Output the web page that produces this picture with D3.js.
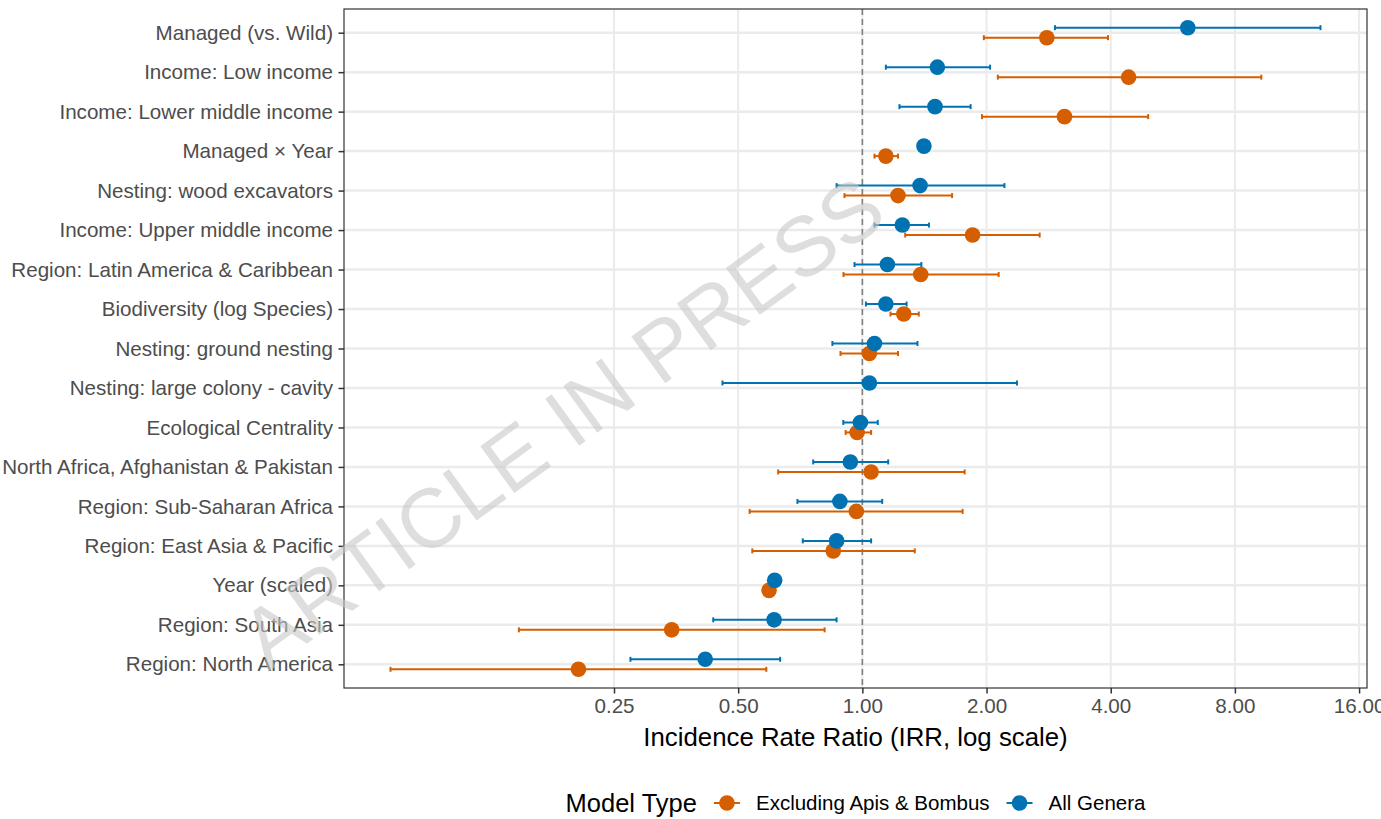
<!DOCTYPE html>
<html>
<head>
<meta charset="utf-8">
<script src="https://cdn.jsdelivr.net/npm/d3@7"></script>
<style>
  body { margin: 0; background: #fff; }
  text { font-family: "Liberation Sans", Arial, sans-serif; }
</style>
</head>
<body>
<div id="chart"></div>
<script>
// Terms, top to bottom
var terms = [
  "Managed (vs. Wild)",
  "Income: Low income",
  "Income: Lower middle income",
  "Managed \u00d7 Year",
  "Nesting: wood excavators",
  "Income: Upper middle income",
  "Region: Latin America & Caribbean",
  "Biodiversity (log Species)",
  "Nesting: ground nesting",
  "Nesting: large colony - cavity",
  "Ecological Centrality",
  "North Africa, Afghanistan & Pakistan",
  "Region: Sub-Saharan Africa",
  "Region: East Asia & Pacific",
  "Year (scaled)",
  "Region: South Asia",
  "Region: North America"
];

// All Genera model: IRR and 95% CI
var allIRR = [6.15, 1.52, 1.50, 1.41, 1.38, 1.25, 1.15, 1.14, 1.07, 1.04, 0.989, 0.935, 0.882, 0.866, 0.613, 0.611, 0.416];
var allLow = [2.93, 1.14, 1.23, 1.39, 0.866, 1.07, 0.957, 1.02, 0.846, 0.458, 0.899, 0.76, 0.696, 0.717, 0.605, 0.435, 0.274];
var allHigh = [12.9, 2.04, 1.83, 1.43, 2.21, 1.45, 1.39, 1.28, 1.36, 2.37, 1.09, 1.155, 1.117, 1.05, 0.621, 0.866, 0.632];

// Excluding Apis & Bombus model (no estimate for large colony - cavity)
var exIRR = [2.80, 4.42, 3.09, 1.14, 1.22, 1.85, 1.385, 1.26, 1.04, null, 0.971, 1.05, 0.967, 0.85, 0.594, 0.345, 0.205];
var exLow = [1.97, 2.13, 1.95, 1.07, 0.905, 1.27, 0.90, 1.17, 0.885, null, 0.911, 0.625, 0.533, 0.541, 0.586, 0.147, 0.0718];
var exHigh = [3.94, 9.27, 4.93, 1.22, 1.65, 2.69, 2.14, 1.37, 1.22, null, 1.05, 1.77, 1.75, 1.34, 0.602, 0.81, 0.585];

var xTicks = [0.25, 0.5, 1, 2, 4, 8, 16];

var models = [
  { name: "Excluding Apis & Bombus", color: "#D55E00", offset: 5, est: exIRR, lo: exLow, hi: exHigh },
  { name: "All Genera", color: "#0072B2", offset: -5, est: allIRR, lo: allLow, hi: allHigh }
];

var W = 1381, H = 819;
var margin = { top: 9, right: 14, bottom: 131, left: 344 };
var width = W - margin.left - margin.right;
var height = H - margin.top - margin.bottom;

var svg = d3.select("#chart")
  .append("svg")
  .attr("width", W)
  .attr("height", H);

var g = svg.append("g")
  .attr("transform", "translate(" + margin.left + "," + margin.top + ")");

// rows for plotting
var rows = [];
models.forEach(function(m) {
  terms.forEach(function(t, i) {
    if (m.est[i] == null) return;
    rows.push({ term: t, model: m, est: m.est[i], lo: m.lo[i], hi: m.hi[i] });
  });
});

// log2 x with 5% expansion like ggplot
var lmin = Math.log2(d3.min(rows, function(d) { return d.lo; }));
var lmax = Math.log2(d3.max(rows, function(d) { return d.hi; }));
var pad = (lmax - lmin) * 0.05;
var x = d3.scaleLog().base(2)
  .domain([Math.pow(2, lmin - pad), Math.pow(2, lmax + pad)])
  .range([0, width]);

var y = d3.scalePoint()
  .domain(terms)
  .range([0, height])
  .padding(0.6);

// grid
g.selectAll(".vgrid")
  .data(xTicks)
  .enter().append("line")
  .attr("x1", function(d) { return x(d); })
  .attr("x2", function(d) { return x(d); })
  .attr("y1", 0)
  .attr("y2", height)
  .style("stroke", "#EBEBEB")
  .style("stroke-width", 2);

g.selectAll(".hgrid")
  .data(terms)
  .enter().append("line")
  .attr("x1", 0)
  .attr("x2", width)
  .attr("y1", function(d) { return y(d); })
  .attr("y2", function(d) { return y(d); })
  .style("stroke", "#EBEBEB")
  .style("stroke-width", 2.5);

// reference line at IRR = 1
g.append("line")
  .attr("x1", x(1))
  .attr("x2", x(1))
  .attr("y1", 0)
  .attr("y2", height)
  .style("stroke", "#7F7F7F")
  .style("stroke-width", 1.6)
  .style("stroke-dasharray", "6,4");

// error bars
var eb = g.selectAll(".eb")
  .data(rows)
  .enter().append("g")
  .attr("transform", function(d) { return "translate(0," + (y(d.term) + d.model.offset) + ")"; })
  .style("stroke", function(d) { return d.model.color; })
  .style("stroke-width", 2);

eb.append("line")
  .attr("x1", function(d) { return x(d.lo); })
  .attr("x2", function(d) { return x(d.hi); });
eb.append("line")
  .attr("x1", function(d) { return x(d.lo); })
  .attr("x2", function(d) { return x(d.lo); })
  .attr("y1", -2.5).attr("y2", 2.5);
eb.append("line")
  .attr("x1", function(d) { return x(d.hi); })
  .attr("x2", function(d) { return x(d.hi); })
  .attr("y1", -2.5).attr("y2", 2.5);

// points
g.selectAll(".pt")
  .data(rows)
  .enter().append("circle")
  .attr("cx", function(d) { return x(d.est); })
  .attr("cy", function(d) { return y(d.term) + d.model.offset; })
  .attr("r", 7.8)
  .style("fill", function(d) { return d.model.color; });

// panel border
g.append("rect")
  .attr("width", width)
  .attr("height", height)
  .style("fill", "none")
  .style("stroke", "#333333")
  .style("stroke-width", 1.2);

// axes
var xAxis = g.append("g")
  .attr("transform", "translate(0," + height + ")")
  .call(d3.axisBottom(x).tickValues(xTicks).tickFormat(d3.format(".2f")).tickSize(5.5).tickPadding(5));
var yAxis = g.append("g")
  .call(d3.axisLeft(y).tickSize(5.5).tickPadding(5.5));

[xAxis, yAxis].forEach(function(ax) {
  ax.select(".domain").remove();
  ax.selectAll(".tick line").style("stroke", "#333333").style("stroke-width", 1.5);
  ax.selectAll(".tick text")
    .style("font-family", "'Liberation Sans', Arial, sans-serif")
    .style("font-size", "20.6px")
    .style("fill", "#4D4D4D");
});

// axis title
svg.append("text")
  .attr("x", margin.left + width / 2)
  .attr("y", 746)
  .style("text-anchor", "middle")
  .style("font-size", "25.8px")
  .style("fill", "#000")
  .text("Incidence Rate Ratio (IRR, log scale)");

// legend, centred under the panel
var legend = svg.append("g");
var ly = 803;
var title = legend.append("text")
  .attr("x", 0)
  .attr("y", ly)
  .attr("dy", "0.35em")
  .style("font-size", "25.5px")
  .text("Model Type");
var cx = title.node().getComputedTextLength() + 17;
models.forEach(function(m) {
  legend.append("line")
    .attr("x1", cx).attr("x2", cx + 26)
    .attr("y1", ly).attr("y2", ly)
    .style("stroke", m.color)
    .style("stroke-width", 2);
  legend.append("circle")
    .attr("cx", cx + 13).attr("cy", ly).attr("r", 7.8)
    .style("fill", m.color);
  var t = legend.append("text")
    .attr("x", cx + 42)
    .attr("y", ly)
    .attr("dy", "0.35em")
    .style("font-size", "20.5px")
    .text(m.name);
  cx = cx + 42 + t.node().getComputedTextLength() + 17;
});
var lw = cx - 17;
legend.attr("transform", "translate(" + (margin.left + width / 2 - lw / 2) + ",0)");

// watermark
svg.append("text")
  .attr("transform", "translate(562,422) rotate(-36)")
  .attr("dy", "0.35em")
  .style("text-anchor", "middle")
  .style("font-size", "84px")
  .style("fill", "#c8c8c8")
  .style("fill-opacity", 0.6)
  .text("ARTICLE IN PRESS");
</script>
</body>
</html>
